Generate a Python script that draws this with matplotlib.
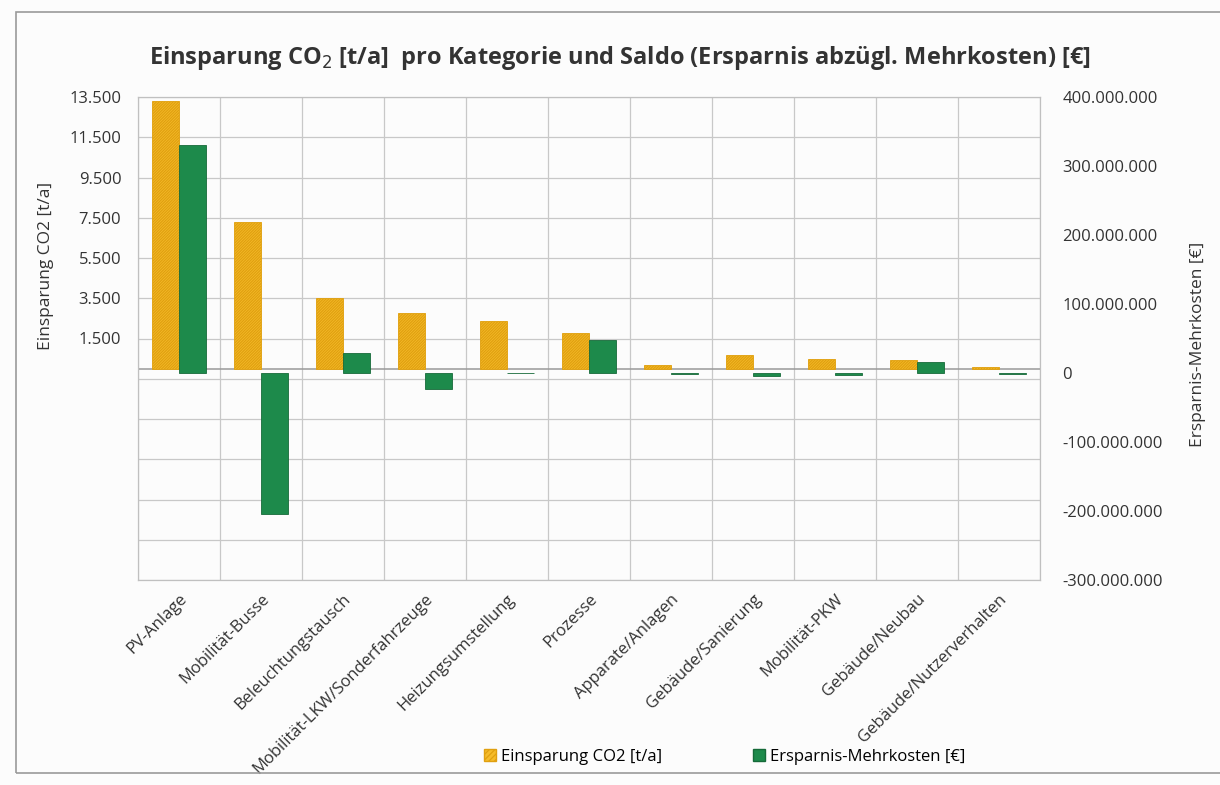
import matplotlib.pyplot as plt
import matplotlib.transforms as mtransforms
import numpy as np
from matplotlib.patches import Patch, Rectangle

kategorien = ['PV-Anlage', 'Mobilität-Busse', 'Beleuchtungstausch',
              'Mobilität-LKW/Sonderfahrzeuge', 'Heizungsumstellung', 'Prozesse',
              'Apparate/Anlagen', 'Gebäude/Sanierung', 'Mobilität-PKW',
              'Gebäude/Neubau', 'Gebäude/Nutzerverhalten']
einsparung_co2 = [13300, 7300, 3500, 2750, 2350, 1750, 200, 700, 500, 450, 80]
saldo_euro = [330e6, -205e6, 29e6, -23e6, 0, 48e6, -2e6, -5e6, -3e6, 16e6, -1e6]

links_ticks = list(range(-10500, 13501, 2000))
rechts_ticks = list(range(-300_000_000, 400_000_001, 100_000_000))


def punkt(v):
    return f'{int(v):,}'.replace(',', '.')


plt.rcParams['font.family'] = ['Open Sans', 'DejaVu Sans']
plt.rcParams['hatch.linewidth'] = 0.9
plt.rcParams['hatch.color'] = '#D38F00'

fig = plt.figure(figsize=(12.2, 7.85), dpi=100, facecolor='#fcfcfc')
# Rahmen des Diagramms
fig.patches.append(Rectangle((16 / 1220, 12 / 785), 1.1, 761 / 785, transform=fig.transFigure,
                             fill=False, edgecolor='#9a9a9a', linewidth=1.2))

ax = fig.add_axes([138 / 1220, 1 - 580 / 785, 902 / 1220, 483 / 785])
ax.set_facecolor('none')
ax2 = ax.twinx()

x = np.arange(len(kategorien))
w = 0.33

ax.bar(x - w / 2, einsparung_co2, width=w, color='#F6BC2A', edgecolor='#E0A010',
       hatch='/' * 12, linewidth=0.6, zorder=3)
ax2.bar(x + w / 2, saldo_euro, width=w, color='#1D8A4B', edgecolor='#166A39',
        linewidth=0.6, zorder=3)

ax.set_ylim(-10500, 13500)
ax.set_yticks(links_ticks)
ax.set_yticklabels([punkt(v) if v > 0 else '' for v in links_ticks], fontsize=12)
ax2.set_ylim(-300e6, 400e6)
ax2.set_yticks(rechts_ticks)
ax2.set_yticklabels([punkt(v) for v in rechts_ticks], fontsize=12)

ax.set_xlim(-0.5, len(kategorien) - 0.5)
ax.set_xticks(x)
ax.set_xticklabels(kategorien, rotation=45, ha='right', rotation_mode='anchor', fontsize=12)
versatz = mtransforms.ScaledTranslation(12 / 100, 0, fig.dpi_scale_trans)
for lbl in ax.get_xticklabels():
    lbl.set_transform(lbl.get_transform() + versatz)
ax.set_xticks(np.arange(-0.5, len(kategorien)), minor=True)

ax.grid(axis='y', color='#c8c8c8', linewidth=0.9, zorder=0)
ax.grid(axis='x', which='minor', color='#c8c8c8', linewidth=0.9, zorder=0)
ax.axhline(0, color='#9a9a9a', linewidth=1.1, zorder=2)
ax.tick_params(axis='both', which='both', length=0, colors='#333333')
ax.tick_params(axis='y', pad=12)
ax.tick_params(axis='x', pad=8)
ax2.tick_params(axis='y', length=0, pad=16, colors='#333333')
for s in list(ax.spines.values()) + list(ax2.spines.values()):
    s.set_color('#c0c0c0')

ax.set_ylabel('Einsparung CO2 [t/a]', fontsize=12.5, color='#333333')
ax.yaxis.set_label_coords(-0.093, 0.65)
ax2.set_ylabel('Ersparnis-Mehrkosten [€]', fontsize=12.5, color='#333333')
ax2.yaxis.set_label_coords(1.166, 0.487)

fig.text(0.508, 1 - 58 / 785,
         'Einsparung CO$_2$ [t/a]  pro Kategorie und Saldo (Ersparnis abzügl. Mehrkosten) [€]',
         ha='center', va='center', fontsize=17, fontweight='bold', color='#333333')

griffe = [Patch(facecolor='#F6BC2A', edgecolor='#E0A010', hatch='/' * 6),
          Patch(facecolor='#1D8A4B', edgecolor='#166A39')]
fig.legend(griffe, ['Einsparung CO2 [t/a]', 'Ersparnis-Mehrkosten [€]'],
           loc='center', bbox_to_anchor=(0.594, 1 - 757 / 785), ncol=2, frameon=False,
           fontsize=12, handlelength=0.7, handleheight=0.7, handletextpad=0.3,
           columnspacing=5.5)

fig.savefig('out.png', dpi=100, facecolor=fig.get_facecolor())
